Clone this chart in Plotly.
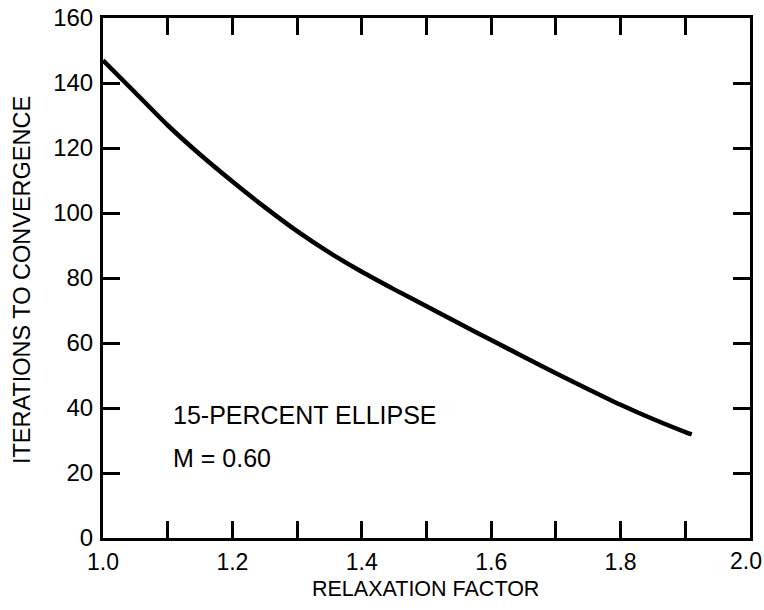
import plotly.graph_objects as go

# Iterations needed to converge versus the relaxation factor
relaxation_factor = [1.00, 1.05, 1.10, 1.15, 1.20, 1.25, 1.30, 1.35, 1.40, 1.45,
                     1.50, 1.55, 1.60, 1.65, 1.70, 1.75, 1.80, 1.85, 1.90, 1.91]
iterations = [147.0, 137.0, 127.0, 118.0, 109.7, 101.8, 94.4, 87.8, 81.9, 76.5,
              71.3, 66.1, 60.9, 55.8, 50.7, 45.8, 41.0, 36.6, 32.6, 31.9]

x_tick_vals = [1.0, 1.1, 1.2, 1.3, 1.4, 1.5, 1.6, 1.7, 1.8, 1.9, 2.0]
x_tick_text = ["1.0", "", "1.2", "", "1.4", "", "1.6", "", "1.8", "", "2.0"]
y_tick_vals = [0, 20, 40, 60, 80, 100, 120, 140, 160]

FONT = "Liberation Sans, Arial, sans-serif"

fig = go.Figure()
fig.add_trace(go.Scatter(
    x=relaxation_factor,
    y=iterations,
    mode="lines",
    line=dict(color="black", width=4.5, shape="spline", smoothing=0.6),
    hoverinfo="skip",
    showlegend=False,
))

axis_common = dict(
    showgrid=False,
    zeroline=False,
    showline=True,
    linecolor="black",
    linewidth=3,
    mirror="allticks",
    ticks="inside",
    ticklen=17,
    tickwidth=2.5,
    tickcolor="black",
    automargin=False,
)

# the last x label sits at the right edge of the figure, so it is drawn
# as a separate annotation nudged inward instead of as an axis tick label
axis_text = x_tick_text[:-1] + [""]
edge_label = x_tick_text[-1]

fig.update_xaxes(range=[1.0, 2.0], tickvals=x_tick_vals, ticktext=axis_text,
                 ticklabelstandoff=1,
                 tickfont=dict(family=FONT, size=23, color="black"), **axis_common)
fig.update_yaxes(range=[0, 160], tickvals=y_tick_vals, ticklabelstandoff=2,
                 tickfont=dict(family=FONT, size=24, color="black"), **axis_common)

fig.add_annotation(x=x_tick_vals[-1], y=-0.0442, xref="x", yref="paper",
                   text=edge_label, showarrow=False, xanchor="center", yanchor="middle",
                   xshift=-4, font=dict(family=FONT, size=23, color="black"))

# axis titles
fig.add_annotation(x=0.4977, y=-0.0975, xref="paper", yref="paper",
                   text="RELAXATION FACTOR", showarrow=False,
                   xanchor="center", yanchor="middle",
                   font=dict(family=FONT, size=21.5, color="black"))
fig.add_annotation(x=-0.1252, y=0.496, xref="paper", yref="paper",
                   text="ITERATIONS TO CONVERGENCE", showarrow=False, textangle=-90,
                   xanchor="center", yanchor="middle",
                   font=dict(family=FONT, size=23.5, color="black"))

# case description
fig.add_annotation(x=1.105, y=38, xref="x", yref="y", text="15-PERCENT ELLIPSE",
                   showarrow=False, xanchor="left", yanchor="middle",
                   font=dict(family=FONT, size=25, color="black"))
fig.add_annotation(x=1.105, y=24.5, xref="x", yref="y", text="M = 0.60",
                   showarrow=False, xanchor="left", yanchor="middle",
                   font=dict(family=FONT, size=25, color="black"))

fig.update_layout(
    width=764,
    height=610,
    margin=dict(l=103, r=14, t=18, b=72),
    paper_bgcolor="white",
    plot_bgcolor="white",
)

fig.write_html("out.html")
